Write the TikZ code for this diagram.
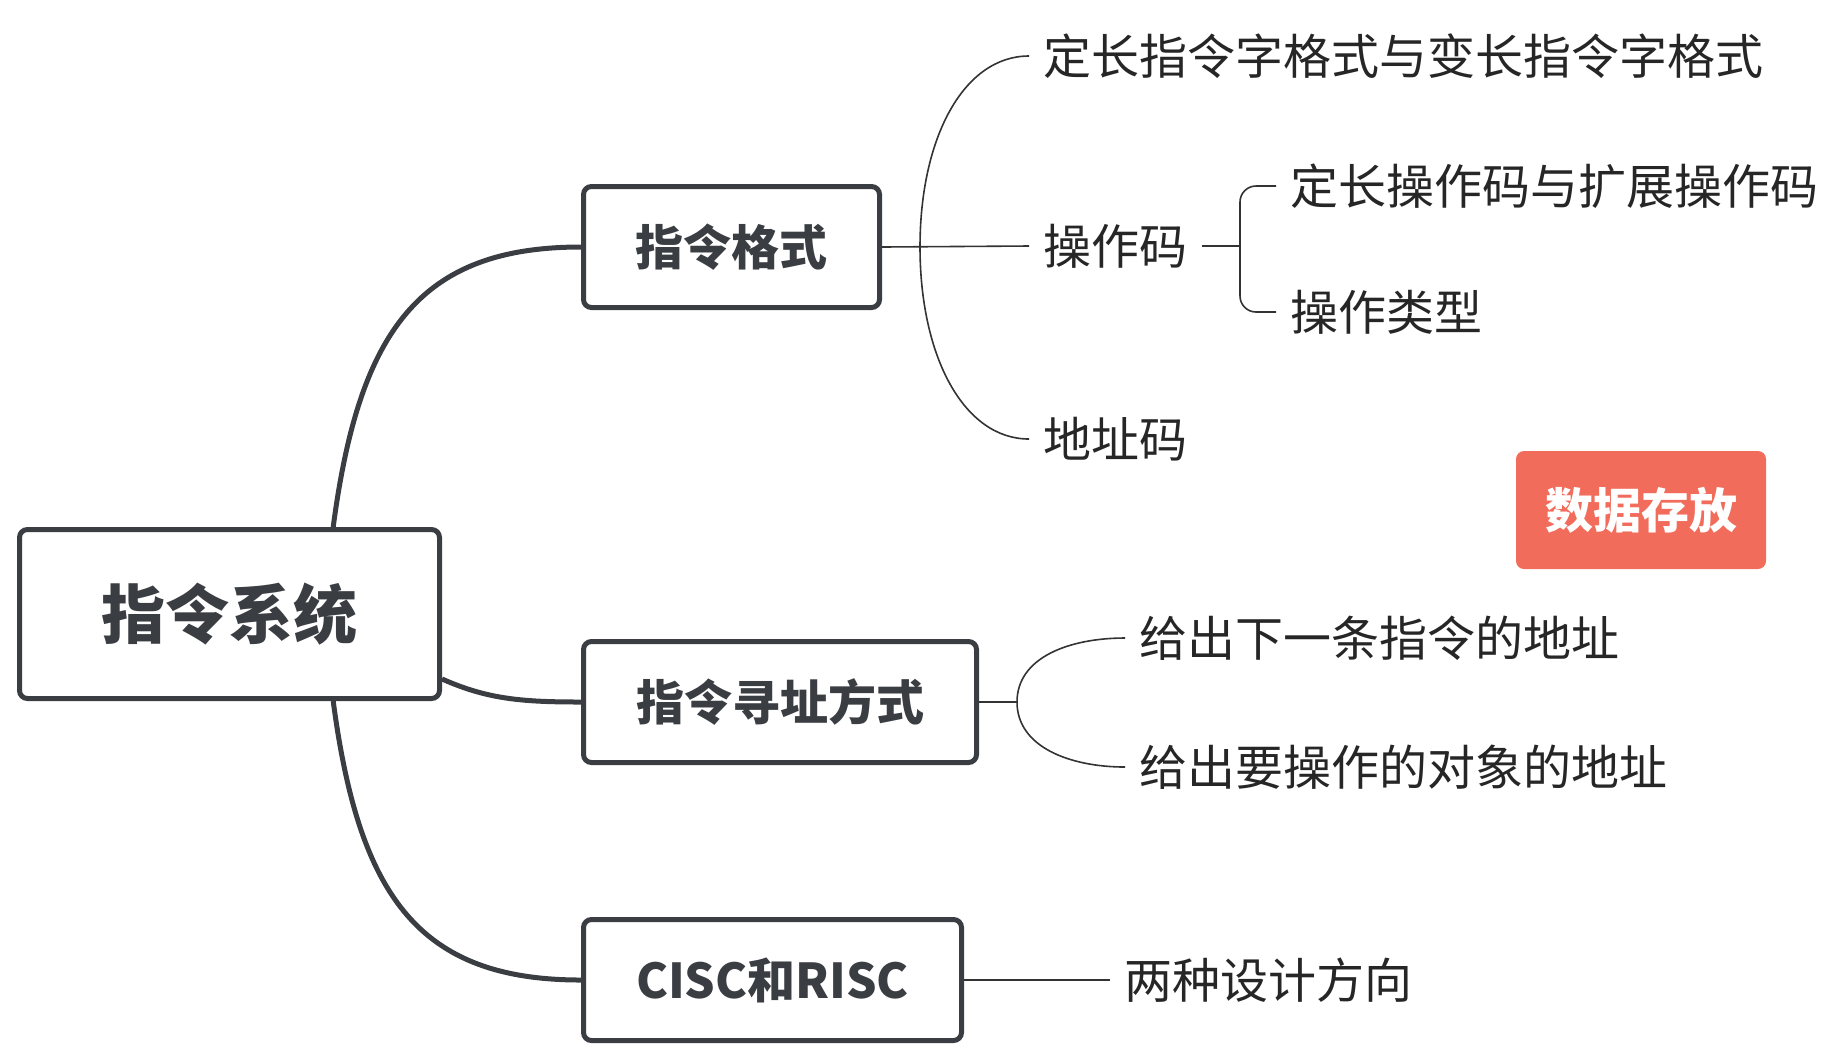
\documentclass[tikz,border=0pt]{standalone}
\usepackage{fontspec}
\setmainfont{Noto Sans CJK SC}
\definecolor{boxline}{HTML}{3A3D42}
\definecolor{tagred}{HTML}{F26C5C}

\begin{document}
\begin{tikzpicture}[x=0.5pt, y=-0.5pt,
    topic/.style={draw=boxline, line width=2.5pt, rounded corners=4pt, fill=white,
        text=boxline, font=\bfseries\fontsize{24}{28}\selectfont, minimum height=60.5pt},
    leaf/.style={anchor=west, inner xsep=7pt, text=black!85, font=\fontsize{24}{28}\selectfont},
    thick link/.style={draw=boxline, line width=2.5pt},
    thin link/.style={draw=black!80, line width=0.8pt}]
    \useasboundingbox (0,0) rectangle (1823,1057);

    % main topics
    \node[topic, minimum width=210pt, minimum height=84.5pt,
        font=\bfseries\fontsize{32}{38}\selectfont] (root) at (229.5,614) {指令系统};
    \node[topic, minimum width=148pt] (fmt) at (731.5,247) {指令格式};
    \node[topic, minimum width=196.5pt] (addr) at (780,702) {指令寻址方式};
    \node[topic, minimum width=189pt] (cisc) at (772.5,980) {CISC和RISC};

    \node[fill=tagred, rounded corners=4pt, text=white, minimum width=125pt, minimum height=59pt,
        font=\bfseries\fontsize{24}{28}\selectfont] (store) at (1641,510) {数据存放};

    % leaves
    \node[leaf] (fixlen) at (1029,56) {定长指令字格式与变长指令字格式};
    \node[leaf] (opcode) at (1029,246) {操作码};
    \node[leaf] (addrcode) at (1029,439) {地址码};
    \node[leaf] (fixop) at (1276,186) {定长操作码与扩展操作码};
    \node[leaf] (optype) at (1276,312) {操作类型};
    \node[leaf] (nextins) at (1125,638) {给出下一条指令的地址};
    \node[leaf] (operand) at (1125,767) {给出要操作的对象的地址};
    \node[leaf] (design) at (1110,980) {两种设计方向};

    \coordinate (fmtj) at (920,247);
    \coordinate (opj) at (1240,246);
    \coordinate (addrj) at (1017,702);

    % thick links
    \draw[thick link] (root.40) .. controls +(26,-197) and +(-161,0) .. (fmt.west);
    \draw[thick link] (root.-17) .. controls +(45,20) and +(-60,0) .. (addr.west);
    \draw[thick link] (root.-40) .. controls +(26,197) and +(-161,0) .. (cisc.west);

    % thin links
    \draw[thin link] (fmt.east) -- (opcode.west);
    \draw[thin link] (fmtj) .. controls +(0,-110) and +(-65,0) .. (fixlen.west);
    \draw[thin link] (fmtj) .. controls +(0,110) and +(-65,0) .. (addrcode.west);

    \draw[thin link] (opcode.east) -- (opj);
    \draw[thin link, rounded corners=8pt] (opj) |- (fixop.west);
    \draw[thin link, rounded corners=8pt] (opj) |- (optype.west);

    \draw[thin link] (addr.east) -- (addrj);
    \draw[thin link] (addrj) .. controls +(0,-45) and +(-55,0) .. (nextins.west);
    \draw[thin link] (addrj) .. controls +(0,45) and +(-55,0) .. (operand.west);

    \draw[thin link] (cisc.east) -- (design.west);
\end{tikzpicture}
\end{document}
